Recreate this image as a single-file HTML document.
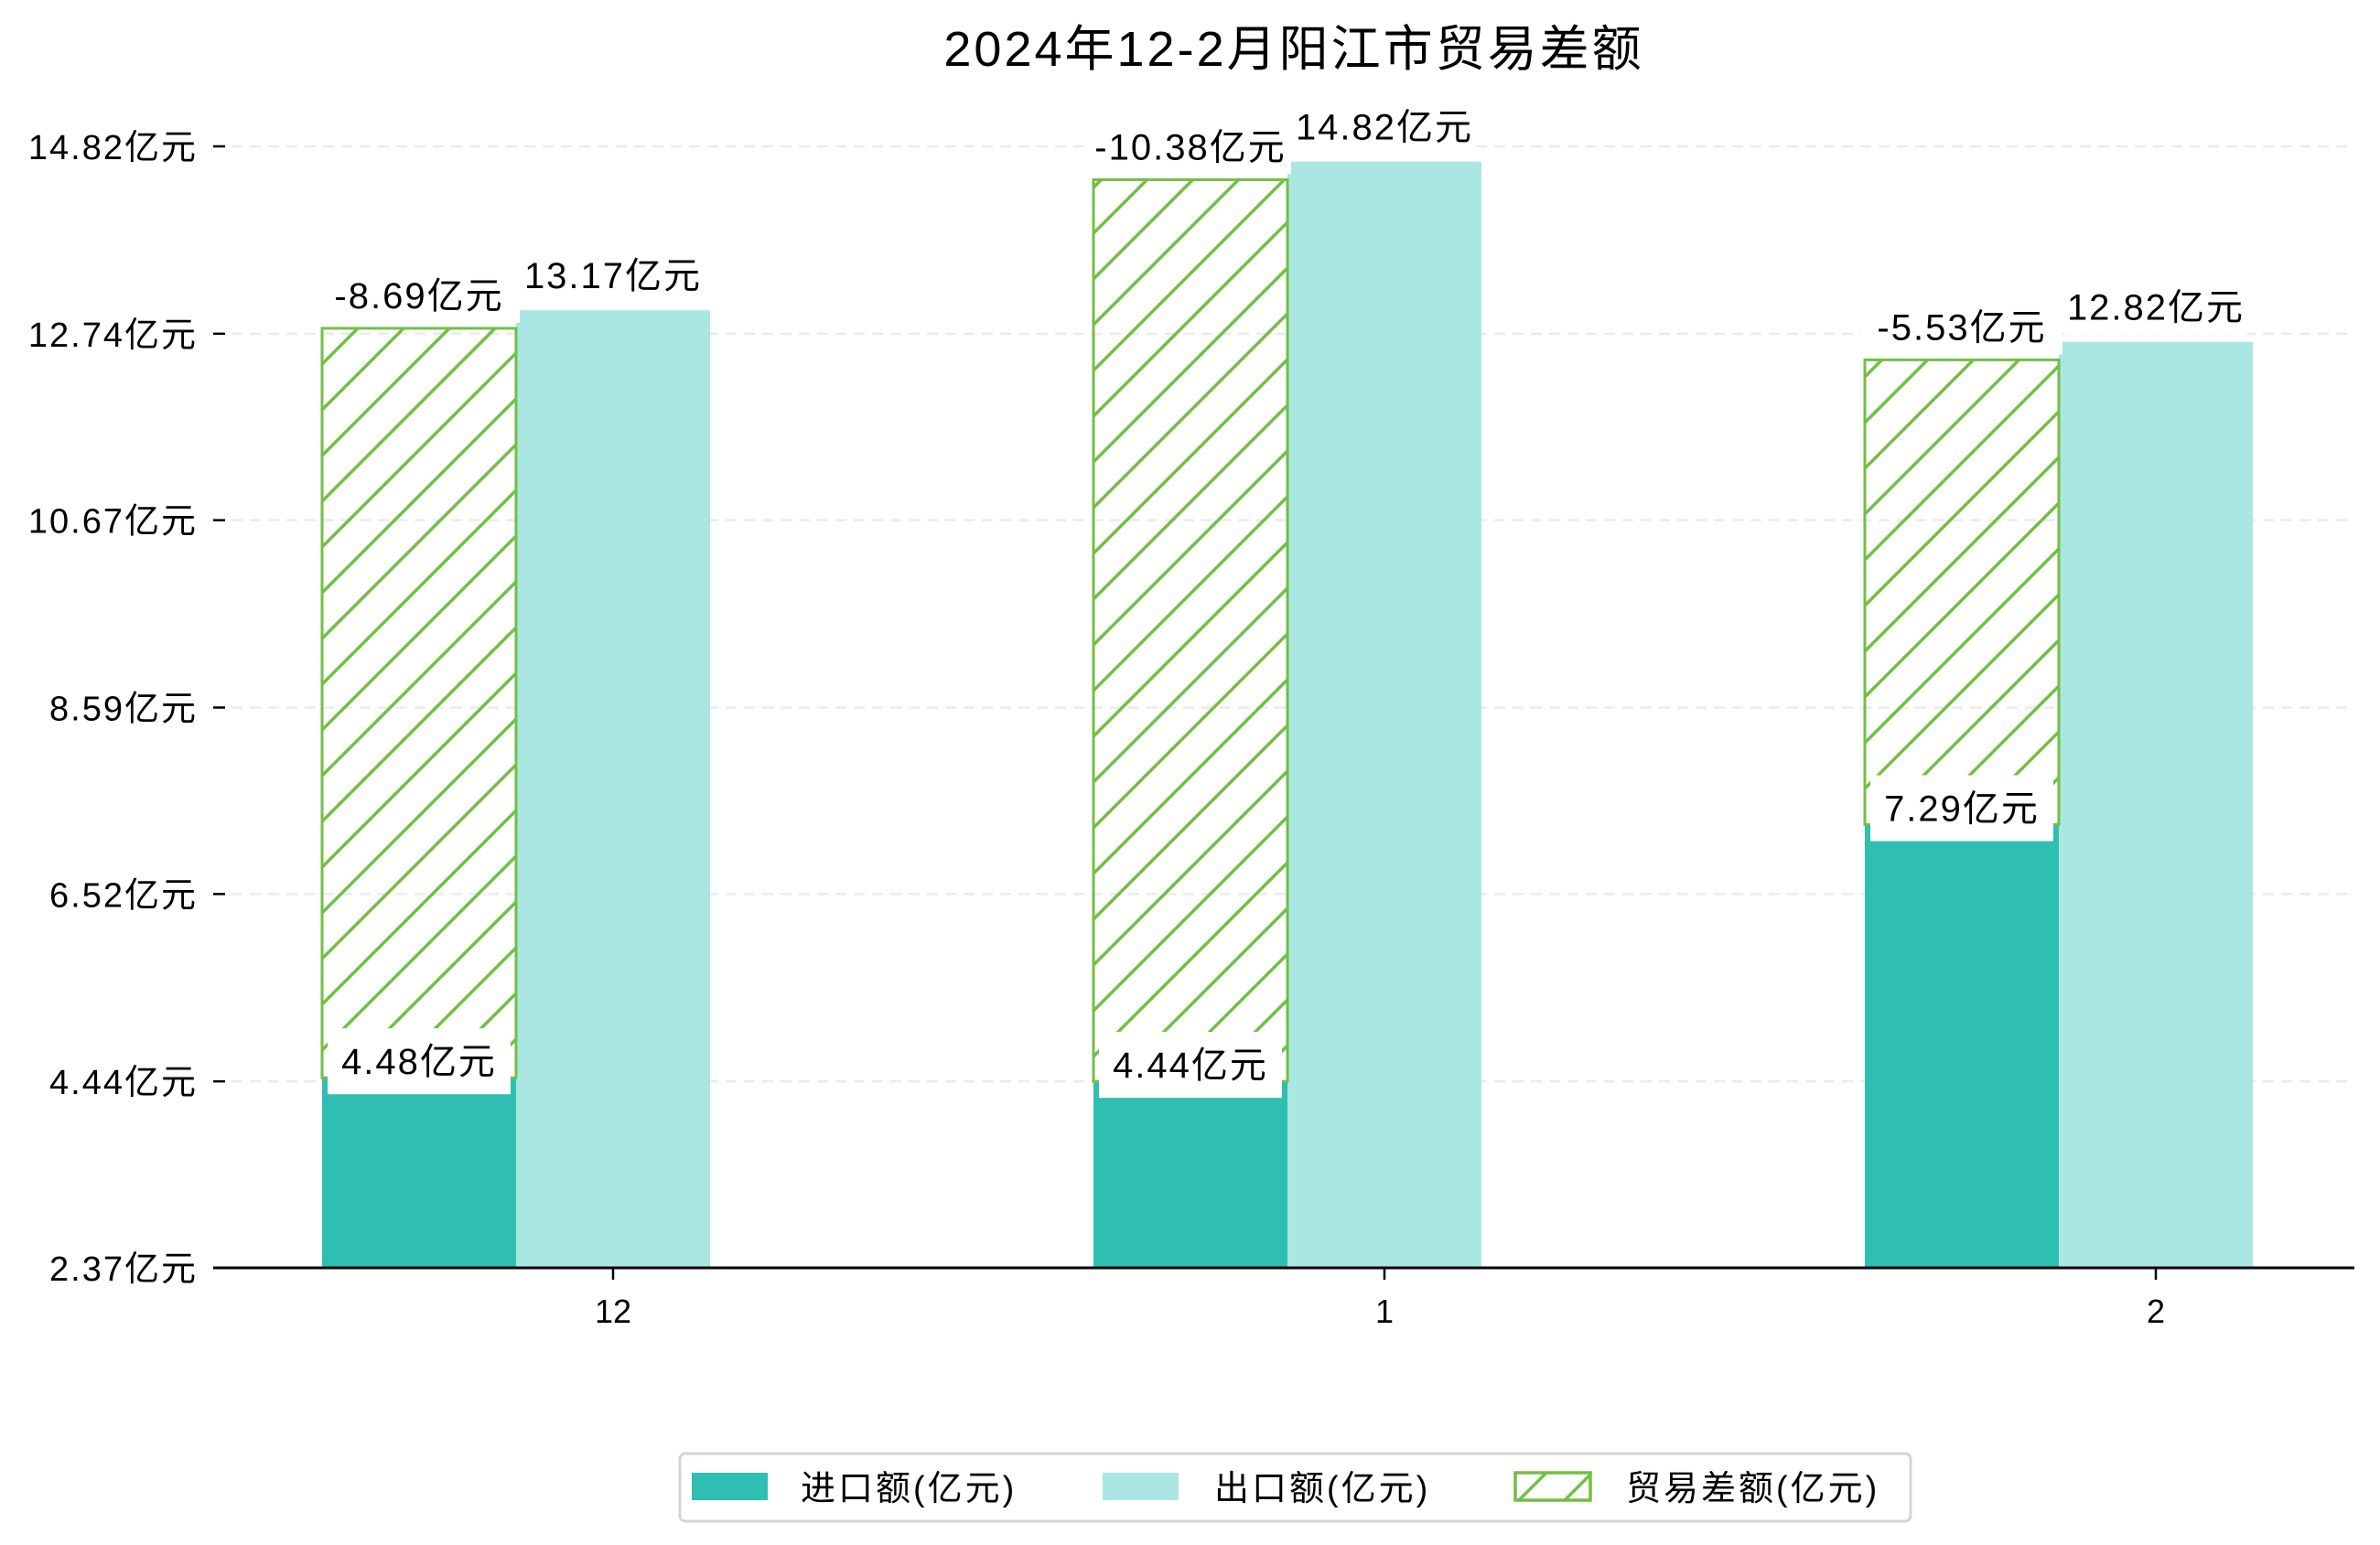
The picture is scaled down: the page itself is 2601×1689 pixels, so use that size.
<!DOCTYPE html>
<html><head><meta charset="utf-8">
<style>
html,body{margin:0;padding:0;background:#fff;}
svg{display:block;font-family:"Liberation Sans","Noto Sans CJK SC",sans-serif;}
</style></head>
<body>
<svg id="chart" width="2601" height="1689" viewBox="0 0 2601 1689" xmlns="http://www.w3.org/2000/svg">
<defs>
<pattern id="hatch" patternUnits="userSpaceOnUse" width="50" height="50">
<path d="M-10,60 L60,-10 M-35,35 L35,-35 M15,85 L85,15" stroke="#72bf44" stroke-width="3.5"/>
</pattern>
</defs>
<text x="1414" y="72" font-size="54" letter-spacing="3" text-anchor="middle" fill="#000">2024年12-2月阳江市贸易差额</text>
<g id="grid"></g>
<g id="bars"></g>
<g id="axes"></g>
<g id="labels"></g>
<g>
<rect x="743" y="1589" width="1345" height="74" rx="6" fill="#fff" stroke="#d4d4d4" stroke-width="3"/>
<g>
<rect x="756" y="1610" width="83" height="30" fill="#2fbfb2"/>
<text x="875" y="1640" font-size="38" letter-spacing="3" fill="#000">进口额(亿元)</text>
</g>
<g>
<rect x="1205" y="1610" width="83" height="30" fill="#aae7e2"/>
<text x="1327" y="1640" font-size="38" letter-spacing="3" fill="#000">出口额(亿元)</text>
</g>
<g>
<rect x="1656" y="1610" width="82" height="30" fill="url(#hatch)" stroke="#72bf44" stroke-width="3.5"/>
<text x="1777" y="1640" font-size="38" letter-spacing="3" fill="#000">贸易差额(亿元)</text>
</g>
</g>
</svg>
<script>
const categories = ["12", "1", "2"];
const importValues = [4.48, 4.44, 7.29];
const exportValues = [13.17, 14.82, 12.82];
const balanceValues = [-8.69, -10.38, -5.53];
const yTicks = [2.37, 4.44, 6.52, 8.59, 10.67, 12.74, 14.82];

const NS = "http://www.w3.org/2000/svg";
const yMin = 2.37, yMax = 14.82, pxBottom = 1386, pxTop = 160;
function y(v){ return pxBottom - (v - yMin) / (yMax - yMin) * (pxBottom - pxTop); }
const x0 = 670, step = 843, barW = 212;
function xc(i){ return x0 + i * step; }
function mk(tag, attrs, parent){
  const e = document.createElementNS(NS, tag);
  for (const k in attrs) e.setAttribute(k, attrs[k]);
  parent.appendChild(e); return e;
}
const grid = document.getElementById('grid'), bars = document.getElementById('bars'),
      axes = document.getElementById('axes'), labels = document.getElementById('labels');

yTicks.forEach((t, i) => {
  const gl = mk('line', {x1:233, x2:2573, y1:y(t), y2:y(t), stroke:'#ebebeb', 'stroke-width':2.5, 'stroke-dasharray':'12,8'}, grid);
  
  
  const tk = mk('line', {x1:233, x2:246, y1:y(t), y2:y(t), stroke:'#000', 'stroke-width':2.5}, axes);
  
  
  const tl = mk('text', {x:216, y:y(t)+14, 'font-size':38, 'letter-spacing':2, 'text-anchor':'end', fill:'#000'}, axes);
  tl.textContent = t.toFixed(2) + '亿元';
  
  
});

const base = mk('line', {x1:233, x2:2573, y1:pxBottom, y2:pxBottom, stroke:'#000', 'stroke-width':3}, axes);



function label(text, cx, cy, name, w, h){
  const r = mk('rect', {x:cx - w/2, y:cy - h/2, width:w, height:h, fill:'#fff'}, labels);
  
  
  const t = mk('text', {x:cx, y:cy + 14, 'font-size':40, 'letter-spacing':2, 'text-anchor':'middle', fill:'#000'}, labels);
  t.textContent = text;
  
  
}

categories.forEach((c, i) => {
  const cx = xc(i);
  const ix = cx - barW*1.5;
  const ib = mk('rect', {x:ix, y:y(importValues[i]), width:barW, height:pxBottom - y(importValues[i]), fill:'#2fbfb2'}, bars);
  
  
  const et = exportValues[i] - 0.17;
  const eb = mk('rect', {x:cx - barW/2, y:y(et), width:barW, height:pxBottom - y(et), fill:'#aae7e2'}, bars);
  
  
  const top = importValues[i] + Math.abs(balanceValues[i]) - 0.37;
  const hb = mk('rect', {x:ix, y:y(top), width:barW, height:y(importValues[i]) - y(top), fill:'url(#hatch)', stroke:'#72bf44', 'stroke-width':3}, bars);
  
  

  const xt = mk('line', {x1:cx, x2:cx, y1:pxBottom, y2:pxBottom+13, stroke:'#000', 'stroke-width':2.5}, axes);
  
  
  const xl = mk('text', {x:cx, y:1446, 'font-size':36, 'text-anchor':'middle', fill:'#000'}, axes);
  xl.textContent = c;
  
  

  label(importValues[i].toFixed(2) + '亿元', ix + barW/2, y(importValues[i]) - 18, 'import-value-label', 200, 72);
  label(exportValues[i].toFixed(2) + '亿元', cx, y(et) - 38, 'export-value-label', 200, 60);
  label(balanceValues[i].toFixed(2) + '亿元', ix + barW/2, y(top) - 36, 'balance-value-label', 220, 60);
});
</script>
</body></html>
